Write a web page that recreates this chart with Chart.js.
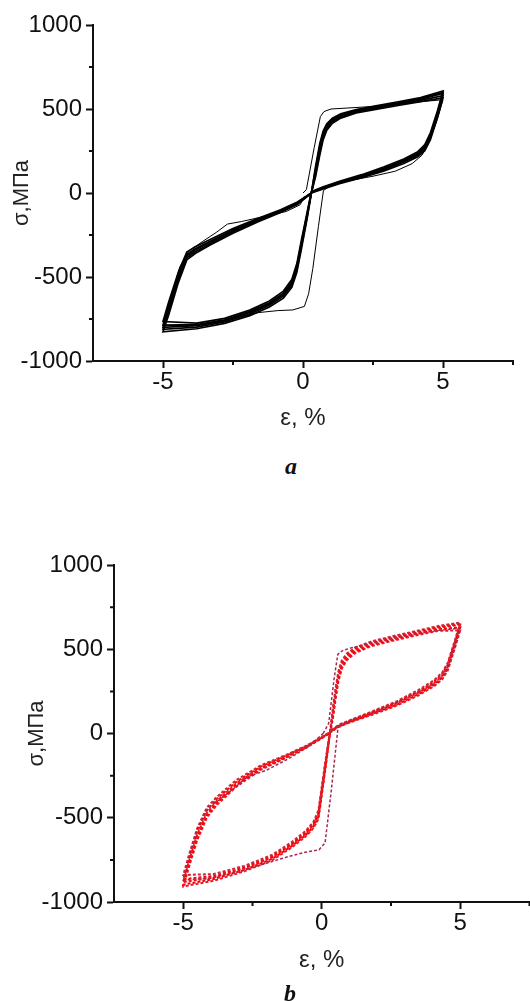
<!DOCTYPE html>
<html>
<head>
<meta charset="utf-8">
<script src="https://cdn.jsdelivr.net/npm/chart.js@4.4.1/dist/chart.umd.min.js"></script>
<style>
  body { margin: 0; background: #fff; }
  #page { position: relative; width: 530px; height: 1001px; overflow: hidden; }
  canvas { position: absolute; left: 0; }
  .cap { position: absolute; font-family: 'Liberation Serif', 'Times New Roman', serif; font-weight: bold; font-style: italic; font-size: 24px; line-height: 24px; transform: translateX(-50%); color: #111; }
</style>
</head>
<body>
<div id="page">
  <canvas id="chartA" style="top:0px"></canvas>
  <canvas id="chartB" style="top:500px"></canvas>
  <div class="cap" style="left:291px; top:454px">a</div>
  <div class="cap" style="left:290px; top:981px">b</div>
</div>
<script>
// axis ticks
const xTicks = [-5, 0, 5];
const xMinor = [-2.5, 2.5, 7.5];
const yTicks = [-1000, -500, 0, 500, 1000];
const yMinor = [-750, -250, 250, 750];

// chart a: strain path (%) shared by the stabilised cycles
const strainA = [0.30, 0.45, 0.60, 0.72, 0.85, 1.05, 1.35, 1.90, 2.60, 3.40, 4.20, 5.00,
  4.80, 4.55, 4.35, 4.10, 3.60, 2.90, 2.10, 1.30, 0.70, 0.30,
  0.15, -0.05, -0.22, -0.40, -0.70, -1.20, -1.90, -2.80, -3.80, -5.00,
  -4.80, -4.45, -4.15, -3.85, -3.30, -2.50, -1.60, -0.80, -0.20, 0.30];
// stress (MPa) per cycle
const stressA1 = [0, 160, 295, 368, 412, 446, 472, 497, 519, 543, 568, 607, 488, 358, 288, 246, 202, 156, 109, 70, 36, 8, -112, -275, -420, -515, -584, -643, -697, -746, -774, -765, -650, -470, -352, -320, -275, -212, -150, -100, -54, 0];
const stressA2 = [0, 145, 278, 356, 404, 439, 466, 492, 514, 537, 562, 599, 477, 347, 277, 238, 195, 149, 103, 65, 32, 5, -122, -290, -436, -530, -596, -653, -706, -755, -784, -786, -672, -488, -366, -332, -286, -221, -156, -105, -58, 0];
const stressA3 = [0, 130, 260, 345, 395, 432, 460, 488, 510, 533, 558, 592, 470, 340, 270, 232, 190, 145, 100, 62, 30, 4, -130, -300, -445, -540, -605, -660, -712, -760, -790, -800, -690, -500, -375, -340, -292, -225, -160, -108, -60, 0];
const stressA4 = [0, 115, 244, 333, 386, 424, 453, 482, 504, 527, 551, 580, 460, 330, 262, 225, 184, 139, 96, 59, 27, 2, -140, -312, -458, -550, -614, -668, -720, -767, -798, -812, -708, -515, -386, -350, -300, -232, -165, -112, -64, 0];
const stressA5 = [0, 98, 226, 318, 374, 415, 446, 476, 498, 521, 544, 566, 448, 318, 252, 216, 176, 132, 91, 55, 23, 0, -150, -328, -472, -562, -626, -678, -730, -776, -808, -826, -728, -532, -398, -360, -308, -240, -171, -116, -68, 0];
// first cycle of a (thin line with sharp corners)
const strainFirstA = [0, 0.12, 0.4, 0.62, 0.75, 1.0, 1.5, 2.5, 3.5, 4.3, 5.0, 4.8, 4.5, 4.25, 3.9, 3.3, 2.5, 1.6, 0.95, 0.73, 0.55, 0.35, 0.2, 0.05, -0.36, -0.9, -1.6, -2.5, -3.5, -5.0, -4.75, -4.4, -4.1, -3.6, -3.1, -2.7, -2.2, -1.4, -0.6, -0.1, 0.05];
const stressFirstA = [0, 20, 270, 455, 485, 500, 505, 515, 532, 545, 555, 440, 300, 225, 175, 130, 100, 72, 40, 15, -200, -450, -600, -675, -696, -700, -712, -750, -785, -790, -640, -440, -350, -290, -235, -185, -170, -140, -110, -70, -20];

// chart b
const strainB = [0.30, 0.40, 0.50, 0.60, 0.72, 0.90, 1.20, 1.80, 2.60, 3.40, 4.20, 5.00,
  4.80, 4.55, 4.35, 4.05, 3.50, 2.70, 1.80, 1.00, 0.55, 0.30,
  0.15, 0.00, -0.12, -0.30, -0.60, -1.10, -1.80, -2.80, -3.90, -5.00,
  -4.80, -4.50, -4.15, -3.80, -3.10, -2.20, -1.30, -0.50, 0.30];
const stressB1 = [12, 148, 270, 368, 432, 474, 510, 547, 579, 608, 638, 658, 550, 420, 362, 316, 259, 191, 130, 78, 44, 13, -145, -316, -456, -524, -581, -646, -721, -786, -834, -840, -724, -564, -440, -378, -278, -189, -128, -68, 9];
const stressB2 = [8, 133, 254, 353, 420, 464, 502, 541, 573, 602, 632, 652, 540, 410, 354, 308, 251, 185, 126, 75, 41, 11, -156, -330, -470, -534, -590, -655, -730, -795, -845, -865, -745, -585, -458, -390, -289, -196, -132, -71, 6];
const stressB3 = [5, 118, 238, 338, 408, 453, 494, 534, 567, 597, 627, 645, 528, 398, 343, 298, 243, 178, 120, 71, 39, 10, -166, -342, -482, -542, -598, -662, -737, -802, -854, -882, -762, -602, -472, -402, -298, -202, -137, -73, 5];
const stressB4 = [2, 102, 222, 322, 396, 443, 485, 526, 559, 589, 618, 630, 516, 386, 332, 288, 234, 171, 115, 68, 36, 8, -177, -354, -494, -552, -606, -670, -745, -810, -864, -897, -780, -620, -487, -414, -308, -208, -141, -76, 4];
const stressB5 = [0, 86, 206, 306, 384, 434, 477, 519, 552, 582, 609, 612, 504, 374, 322, 280, 227, 165, 110, 65, 34, 5, -190, -368, -508, -562, -614, -678, -753, -818, -874, -908, -796, -636, -500, -426, -318, -215, -146, -79, 3];
const strainFirstB = [0.05, 0.25, 0.45, 0.58, 0.75, 1.0, 1.5, 2.4, 3.4, 4.2, 5.0, 4.8, 4.5, 4.2, 3.7, 2.9, 2.0, 1.1, 0.6, 0.35, 0.12, -0.1, -0.6, -1.2, -2.0, -3.0, -4.0, -5.0, -4.8, -4.5, -4.1, -3.8, -3.2, -2.7, -2.0, -1.2, -0.5, 0.05];
const stressFirstB = [0, 60, 330, 470, 492, 505, 525, 560, 590, 612, 625, 510, 370, 310, 262, 200, 135, 80, 55, -330, -650, -690, -705, -730, -770, -820, -858, -870, -740, -570, -440, -405, -330, -258, -218, -150, -80, 0];

function pts(xs, ys) {
    return xs.map((x, i) => ({x: x, y: ys[i]}));
}

function line(xs, ys, color, width, dash) {
    return {
        data: pts(xs, ys),
        showLine: true,
        borderColor: color,
        borderWidth: width,
        borderDash: dash || [],
        pointRadius: 0,
        fill: false,
        tension: 0
    };
}

const minorTicks = {
    id: 'minorTicks',
    afterDraw(chart) {
        const {ctx, chartArea} = chart;
        const sx = chart.scales.x, sy = chart.scales.y;
        ctx.save();
        ctx.strokeStyle = '#111';
        ctx.lineWidth = 2;
        ctx.beginPath();
        xMinor.forEach(v => {
            const px = sx.getPixelForValue(v);
            ctx.moveTo(px, chartArea.bottom);
            ctx.lineTo(px, chartArea.bottom + 4);
        });
        yMinor.forEach(v => {
            const py = sy.getPixelForValue(v);
            ctx.moveTo(chartArea.left, py);
            ctx.lineTo(chartArea.left - 4, py);
        });
        ctx.stroke();
        ctx.restore();
    }
};

const tickFont = {family: "'Liberation Sans', Arial, sans-serif", size: 24};

function makeOptions(o) {
    return {
        responsive: false,
        animation: false,
        layout: {padding: {left: 0, top: o.top, right: o.right, bottom: 0}},
        plugins: {legend: {display: false}, tooltip: {enabled: false}},
        scales: {
            x: {
                type: 'linear', min: -7.5, max: 7.5,
                afterFit: s => { s.height = o.xHeight; },
                border: {color: '#111', width: 2},
                grid: {
                    drawOnChartArea: false, tickLength: 7, tickWidth: 2,
                    tickColor: c => xTicks.includes(c.tick.value) ? '#111' : 'rgba(0,0,0,0)'
                },
                ticks: {
                    stepSize: 2.5, autoSkip: false, maxRotation: 0, padding: 0,
                    color: '#111', font: tickFont,
                    callback: v => xTicks.includes(v) ? String(v) : ''
                },
                title: {
                    display: true, text: 'ε, %', color: '#222',
                    font: {family: "'Liberation Sans', Arial, sans-serif", size: 24},
                    padding: {top: 0, bottom: o.xTitlePad}
                }
            },
            y: {
                type: 'linear', min: -1000, max: 1000,
                afterFit: s => { s.width = o.yWidth; },
                border: {color: '#111', width: 2},
                grid: {
                    drawOnChartArea: false, tickLength: 7, tickWidth: 2,
                    tickColor: c => yTicks.includes(c.tick.value) ? '#111' : 'rgba(0,0,0,0)'
                },
                ticks: {
                    stepSize: 250, autoSkip: false, padding: 4,
                    color: '#111', font: tickFont,
                    callback: v => yTicks.includes(v) ? String(v) : ''
                },
                title: {
                    display: true, text: 'σ,МПа', color: '#222',
                    font: {family: "'Liberation Sans', Arial, sans-serif", size: 22},
                    padding: {top: o.yTitlePad, bottom: 0}
                }
            }
        }
    };
}

const cA = document.getElementById('chartA');
cA.width = 530; cA.height = 440;
new Chart(cA.getContext('2d'), {
    type: 'scatter',
    data: {
        datasets: [
            line(strainFirstA, stressFirstA, '#000', 1),
            line(strainA, stressA1, '#000', 1.7),
            line(strainA, stressA2, '#000', 1.7),
            line(strainA, stressA3, '#000', 1.7),
            line(strainA, stressA4, '#000', 1.7),
            line(strainA, stressA5, '#000', 1.7)
        ]
    },
    options: makeOptions({top: 25, right: 17, xHeight: 79, yWidth: 93, xTitlePad: 7.6, yTitlePad: 9}),
    plugins: [minorTicks]
});

const cB = document.getElementById('chartB');
cB.width = 530; cB.height = 501;
new Chart(cB.getContext('2d'), {
    type: 'scatter',
    data: {
        datasets: [
            line(strainFirstB, stressFirstB, '#a8284e', 1.5, [3, 2]),
            line(strainB, stressB1, '#c8283c', 2, [3, 2]),
            line(strainB, stressB2, '#ff0000', 2, [3, 2]),
            line(strainB, stressB3, '#ff1010', 2, [3, 2]),
            line(strainB, stressB4, '#ff0000', 2, [3, 2]),
            line(strainB, stressB5, '#e81a30', 2, [3, 2])
        ]
    },
    options: makeOptions({top: 65, right: 0.5, xHeight: 99, yWidth: 114, xTitlePad: 26.6, yTitlePad: 24}),
    plugins: [minorTicks]
});
</script>
</body>
</html>
